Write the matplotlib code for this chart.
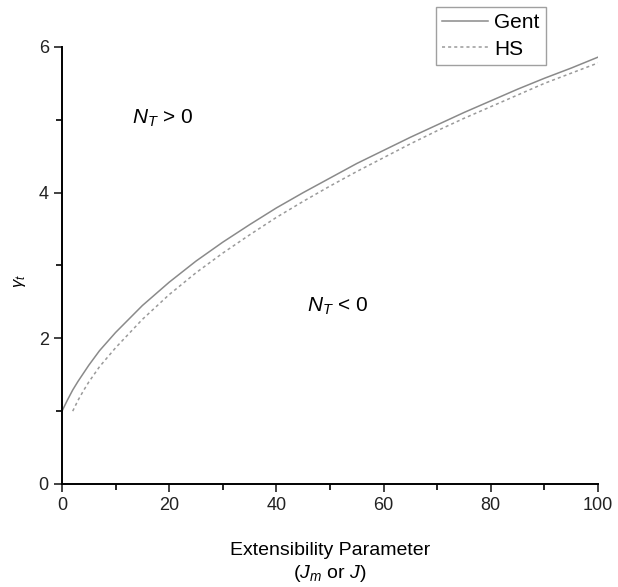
import numpy as np
import matplotlib.pyplot as plt
from matplotlib.ticker import MultipleLocator

plt.rcParams['font.family'] = ['Liberation Sans', 'DejaVu Sans']
plt.rcParams['mathtext.fontset'] = 'custom'
plt.rcParams['mathtext.rm'] = 'Liberation Sans'
plt.rcParams['mathtext.it'] = 'Liberation Sans:italic'

# Gent model
gent_x = [0, 1, 2, 3, 5, 7, 10, 15, 20, 25, 30, 35, 40, 45, 50, 55, 60, 65, 70, 75, 80, 85, 90, 95, 100]
gent_y = [1.0, 1.15, 1.29, 1.41, 1.63, 1.83, 2.08, 2.45, 2.77, 3.06, 3.32, 3.56, 3.79, 4.00,
          4.20, 4.40, 4.58, 4.76, 4.93, 5.10, 5.26, 5.42, 5.57, 5.71, 5.86]
# HS model
hs_x = [2, 3, 4, 5, 7, 10, 15, 20, 25, 30, 35, 40, 45, 50, 55, 60, 65, 70, 75, 80, 85, 90, 95, 100]
hs_y = [1.0, 1.15, 1.28, 1.40, 1.61, 1.87, 2.26, 2.60, 2.90, 3.17, 3.42, 3.66, 3.88, 4.09,
        4.29, 4.48, 4.67, 4.85, 5.02, 5.18, 5.34, 5.50, 5.64, 5.78]

fig = plt.figure(figsize=(6.18, 5.87), dpi=100)
ax = fig.add_axes([0.1003, 0.1755, 0.8673, 0.7445])

ax.plot(gent_x, gent_y, color='#8a8a8a', lw=1.1, label='Gent')
ax.plot(hs_x, hs_y, color='#9a9a9a', lw=1.1, ls=(0, (2, 2)), label='HS')

ax.set_xlim(0, 100)
ax.set_ylim(0, 6)
ax.spines['top'].set_visible(False)
ax.spines['right'].set_visible(False)
for s in ['left', 'bottom']:
    ax.spines[s].set_linewidth(1.4)
ax.xaxis.set_major_locator(MultipleLocator(20))
ax.xaxis.set_minor_locator(MultipleLocator(10))
ax.yaxis.set_major_locator(MultipleLocator(2))
ax.yaxis.set_minor_locator(MultipleLocator(1))
ax.tick_params(which='major', direction='out', length=6, width=1.2, labelsize=13, colors='#222222')
ax.tick_params(which='minor', direction='out', length=4, width=1.2)

ax.text(13.1, 4.95, r'$\mathit{N}_{\mathit{T}}$ > 0', fontsize=15, ha='left', va='baseline')
ax.text(45.7, 2.36, r'$\mathit{N}_{\mathit{T}}$ < 0', fontsize=15, ha='left', va='baseline')

ax.set_xlabel('Extensibility Parameter\n' + r'($\mathit{J}_{\mathit{m}}$ or $\mathit{J}$)',
              fontsize=14, labelpad=20, linespacing=1.25)
ax.set_ylabel(r'$\gamma_t$', fontsize=12)
ax.yaxis.set_label_coords(-0.063, 0.465)

leg = ax.legend(loc='upper left', bbox_to_anchor=(436 / 618, 1 - 7 / 587),
                bbox_transform=fig.transFigure, borderaxespad=0, fontsize=15,
                frameon=True, fancybox=False, edgecolor='#888888', handlelength=2.2,
                borderpad=0.3, labelspacing=0.35, handletextpad=0.3)
leg.get_frame().set_linewidth(1.0)

fig.savefig('out.png', dpi=100)
